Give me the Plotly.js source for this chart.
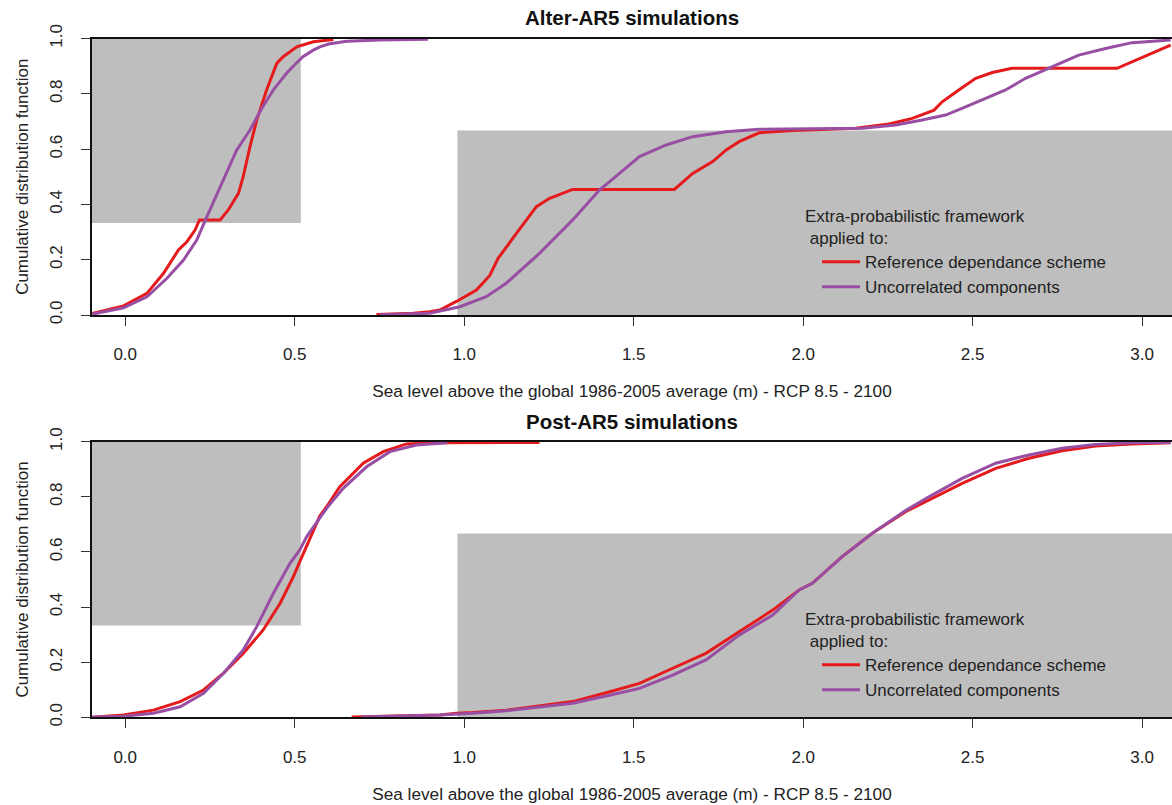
<!DOCTYPE html>
<html>
<head>
<meta charset="utf-8">
<script src="https://cdn.plot.ly/plotly-3.0.1.min.js"></script>
<style>html,body{margin:0;padding:0;background:#fff;}</style>
</head>
<body>
<div id="chart" style="width:1172px;height:805px;"></div>
<script>
// ---------- DATA ----------
const seriesNames = ['Reference dependance scheme', 'Uncorrelated components'];
const panelTitles = ['Alter-AR5 simulations', 'Post-AR5 simulations'];
const xTitle = 'Sea level above the global 1986-2005 average (m) - RCP 8.5 - 2100';
const yTitle = 'Cumulative distribution function';
const legendTitle = 'Extra-probabilistic framework<br>\u00a0applied to:';
const xTickVals = [0, 0.5, 1, 1.5, 2, 2.5, 3];
const xTickText = ['0.0', '0.5', '1.0', '1.5', '2.0', '2.5', '3.0'];
const yTickVals = [0, 0.2, 0.4, 0.6, 0.8, 1];
const yTickText = ['0.0', '0.2', '0.4', '0.6', '0.8', '1.0'];

// grey boxes (bounds of the extra-probabilistic framework)
const boxLowX = [-1, 0.518];
const boxLowY = [0.333, 1.05];
const boxHighX = [0.98, 4];
const boxHighY = [-0.05, 0.667];

// Alter-AR5, reference dependance scheme (low / high)
const alterRefLowX = [-0.097, -0.005, 0.064, 0.113, 0.157, 0.182, 0.206, 0.219, 0.28, 0.304, 0.334, 0.348, 0.368, 0.388, 0.417, 0.447, 0.466, 0.506, 0.555, 0.614];
const alterRefLowY = [0.006, 0.033, 0.078, 0.151, 0.235, 0.265, 0.307, 0.344, 0.344, 0.38, 0.44, 0.50, 0.609, 0.705, 0.814, 0.910, 0.934, 0.970, 0.988, 0.996];
const alterRefHighX = [0.741, 0.85, 0.898, 0.928, 0.977, 1.036, 1.075, 1.1, 1.154, 1.213, 1.252, 1.32, 1.62, 1.674, 1.733, 1.773, 1.811, 1.87, 1.968, 2.155, 2.253, 2.322, 2.386, 2.41, 2.459, 2.509, 2.558, 2.616, 2.926, 2.97, 3.019, 3.084];
const alterRefHighY = [0.002, 0.006, 0.012, 0.018, 0.049, 0.09, 0.142, 0.205, 0.295, 0.392, 0.422, 0.454, 0.454, 0.512, 0.555, 0.597, 0.627, 0.659, 0.667, 0.675, 0.691, 0.711, 0.741, 0.771, 0.814, 0.856, 0.877, 0.892, 0.892, 0.916, 0.94, 0.976];

// Alter-AR5, uncorrelated components
const alterUncLowX = [-0.097, -0.005, 0.064, 0.123, 0.172, 0.211, 0.241, 0.28, 0.329, 0.368, 0.403, 0.437, 0.457, 0.476, 0.5, 0.525, 0.555, 0.574, 0.6, 0.653, 0.751, 0.893];
const alterUncLowY = [0.003, 0.026, 0.066, 0.133, 0.199, 0.271, 0.356, 0.464, 0.597, 0.669, 0.748, 0.814, 0.846, 0.874, 0.905, 0.935, 0.958, 0.970, 0.980, 0.990, 0.995, 0.997];
const alterUncHighX = [0.75, 0.898, 0.987, 1.065, 1.124, 1.173, 1.222, 1.32, 1.399, 1.458, 1.517, 1.596, 1.674, 1.773, 1.87, 2.175, 2.273, 2.351, 2.42, 2.479, 2.538, 2.597, 2.656, 2.734, 2.813, 2.892, 2.97, 3.084];
const alterUncHighY = [0.001, 0.006, 0.03, 0.066, 0.115, 0.169, 0.223, 0.344, 0.452, 0.512, 0.573, 0.615, 0.645, 0.663, 0.672, 0.675, 0.687, 0.705, 0.723, 0.753, 0.784, 0.814, 0.856, 0.898, 0.94, 0.964, 0.985, 0.995];

// Post-AR5, reference dependance scheme
const postRefLowX = [-0.097, -0.005, 0.083, 0.162, 0.231, 0.29, 0.348, 0.407, 0.457, 0.496, 0.515, 0.535, 0.555, 0.574, 0.594, 0.633, 0.643, 0.702, 0.761, 0.83, 0.908, 1.222];
const postRefLowY = [0.0, 0.008, 0.026, 0.057, 0.099, 0.16, 0.232, 0.317, 0.414, 0.51, 0.565, 0.62, 0.68, 0.73, 0.764, 0.837, 0.849, 0.922, 0.964, 0.992, 0.996, 0.997];
const postRefHighX = [0.668, 0.928, 0.977, 1.026, 1.124, 1.222, 1.32, 1.419, 1.517, 1.615, 1.713, 1.812, 1.91, 1.988, 2.027, 2.115, 2.204, 2.302, 2.371, 2.469, 2.568, 2.666, 2.764, 2.862, 2.97, 3.084];
const postRefHighY = [0.001, 0.008, 0.015, 0.017, 0.026, 0.041, 0.057, 0.089, 0.123, 0.178, 0.232, 0.311, 0.389, 0.462, 0.486, 0.583, 0.668, 0.746, 0.789, 0.849, 0.903, 0.94, 0.967, 0.984, 0.992, 0.996];

// Post-AR5, uncorrelated components
const postUncLowX = [-0.097, -0.005, 0.083, 0.162, 0.231, 0.29, 0.348, 0.388, 0.437, 0.486, 0.515, 0.535, 0.555, 0.594, 0.643, 0.712, 0.781, 0.859, 0.95];
const postUncLowY = [0.0, 0.004, 0.015, 0.038, 0.087, 0.16, 0.244, 0.329, 0.45, 0.559, 0.607, 0.655, 0.69, 0.758, 0.831, 0.909, 0.964, 0.988, 0.996];
const postUncHighX = [0.697, 0.928, 1.026, 1.124, 1.222, 1.32, 1.419, 1.517, 1.615, 1.713, 1.812, 1.91, 1.988, 2.027, 2.115, 2.204, 2.302, 2.371, 2.469, 2.568, 2.666, 2.764, 2.862, 2.97, 3.084];
const postUncHighY = [0.001, 0.008, 0.015, 0.024, 0.037, 0.051, 0.077, 0.105, 0.153, 0.208, 0.299, 0.371, 0.462, 0.486, 0.583, 0.668, 0.75, 0.8, 0.867, 0.922, 0.952, 0.976, 0.99, 0.996, 0.997];

// ---------- STYLE ----------
const colors = ['#E41A1C', '#984EA3'];
const FONT = 'Liberation Sans, Arial, Helvetica, sans-serif';
const W = 1172, H = 805;

function join(ax, ay, bx, by) {
  return { x: ax.concat([null], bx), y: ay.concat([null], by) };
}

const traces = [];
const panels = [
  { xa: 'x', ya: 'y', leg: 'legend', ref: join(alterRefLowX, alterRefLowY, alterRefHighX, alterRefHighY), unc: join(alterUncLowX, alterUncLowY, alterUncHighX, alterUncHighY) },
  { xa: 'x2', ya: 'y2', leg: 'legend2', ref: join(postRefLowX, postRefLowY, postRefHighX, postRefHighY), unc: join(postUncLowX, postUncLowY, postUncHighX, postUncHighY) }
];
panels.forEach(p => {
  [p.ref, p.unc].forEach((d, i) => {
    traces.push({
      type: 'scatter', mode: 'lines', x: d.x, y: d.y, xaxis: p.xa, yaxis: p.ya,
      name: seriesNames[i], legend: p.leg, connectgaps: false,
      line: { color: colors[i], width: 3 }, hoverinfo: 'skip'
    });
  });
});

const px2paperY = py => (H - py) / H;
const xDom = [92 / W, 1];
const yDomTop = [px2paperY(315), px2paperY(38.5)];
const yDomBot = [px2paperY(717.3), px2paperY(441.7)];

function xAxis(anchor) {
  return {
    domain: xDom, anchor: anchor, range: [-0.098, 3.088],
    tickvals: xTickVals, ticktext: xTickText, ticks: 'outside', ticklen: 9, tickwidth: 1, tickcolor: '#333',
    ticklabelstandoff: 14,
    showline: true, linecolor: '#111', linewidth: 2, mirror: true,
    showgrid: false, zeroline: false, automargin: false,
    tickfont: { size: 17, color: '#222', family: FONT },
    title: { text: xTitle, font: { size: 17.2, color: '#222', family: FONT }, standoff: 22 }
  };
}
function yAxis(anchor, dom) {
  return {
    domain: dom, anchor: anchor, range: [0, 1],
    tickvals: yTickVals, ticktext: yTickText, ticks: 'outside', ticklen: 9, tickwidth: 1, tickcolor: '#333',
    tickangle: -90, ticklabelstandoff: 12,
    showline: true, linecolor: '#111', linewidth: 2, mirror: false,
    showgrid: false, zeroline: false, automargin: false,
    tickfont: { size: 17, color: '#222', family: FONT },
    title: { text: yTitle, font: { size: 17, color: '#222', family: FONT }, standoff: 14 }
  };
}

function boxes(xr, yr) {
  return [
    { type: 'rect', xref: xr, yref: yr, x0: boxLowX[0], x1: boxLowX[1], y0: boxLowY[0], y1: boxLowY[1], fillcolor: '#BEBEBE', line: { width: 0 }, layer: 'below' },
    { type: 'rect', xref: xr, yref: yr, x0: boxHighX[0], x1: boxHighX[1], y0: boxHighY[0], y1: boxHighY[1], fillcolor: '#BEBEBE', line: { width: 0 }, layer: 'below' }
  ];
}

function legendCfg(ytop) {
  return {
    x: 803 / W, xanchor: 'left', y: ytop, yanchor: 'top',
    bgcolor: 'rgba(0,0,0,0)', borderwidth: 0,
    font: { size: 17, color: '#222', family: FONT },
    title: { text: legendTitle, font: { size: 17, color: '#222', family: FONT }, side: 'top' },
    indentation: 14, itemwidth: 38, tracegroupgap: 0
  };
}

const layout = {
  width: W, height: H,
  margin: { l: 0, r: 0, t: 0, b: 0 },
  paper_bgcolor: '#fff', plot_bgcolor: 'rgba(0,0,0,0)',
  font: { family: FONT, size: 17, color: '#222' },
  showlegend: true,
  title: { text: '<b>' + panelTitles[0] + '</b>', font: { size: 20.5, color: '#111', family: FONT }, x: 632 / W, xanchor: 'center', y: px2paperY(18), yanchor: 'middle', xref: 'paper', yref: 'paper' },
  annotations: [
    { text: '<b>' + panelTitles[1] + '</b>', xref: 'paper', yref: 'paper', x: 632 / W, y: px2paperY(421), xanchor: 'center', yanchor: 'middle', showarrow: false, font: { size: 20.5, color: '#111', family: FONT } }
  ],
  xaxis: xAxis('y'), yaxis: yAxis('x', yDomTop),
  xaxis2: xAxis('y2'), yaxis2: yAxis('x2', yDomBot),
  shapes: boxes('x', 'y').concat(boxes('x2', 'y2')),
  legend: legendCfg(px2paperY(200)),
  legend2: legendCfg(px2paperY(603))
};

Plotly.newPlot('chart', traces, layout, { displayModeBar: false, staticPlot: true });
</script>
</body>
</html>
